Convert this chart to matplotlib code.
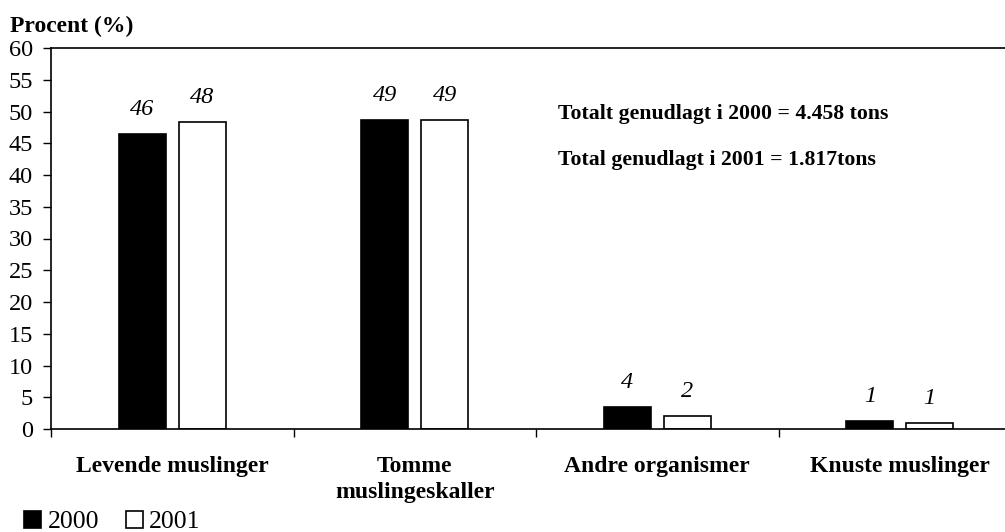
import numpy as np
import matplotlib
matplotlib.use("Agg")
import matplotlib.pyplot as plt

plt.rcParams['font.family'] = ['Liberation Serif', 'DejaVu Serif']

# data
categories = ['Levende muslinger', 'Tomme\nmuslingeskaller', 'Andre organismer', 'Knuste muslinger']
years = ['2000', '2001']
vals_2000 = [46.5, 48.7, 3.5, 1.2]
vals_2001 = [48.3, 48.6, 2.0, 1.0]
labels_2000 = ['46', '49', '4', '1']
labels_2001 = ['48', '49', '2', '1']
yticks = list(range(0, 65, 5))

fig = plt.figure(figsize=(10.05, 5.32), dpi=100)
ax = fig.add_axes([51 / 1005, 1 - 429 / 532, 970 / 1005, 381 / 532])

x = np.arange(len(categories))
w = 0.194
off = 0.123
b1 = ax.bar(x - off, vals_2000, w, color='black', edgecolor='black', linewidth=1.2, label=years[0])
b2 = ax.bar(x + off, vals_2001, w, color='white', edgecolor='black', linewidth=1.2, label=years[1])

# italic value labels above the bars
for bars, labs in ((b1, labels_2000), (b2, labels_2001)):
    for r, t in zip(bars, labs):
        ax.text(r.get_x() + r.get_width() / 2, r.get_height() + 2.2, t,
                ha='center', va='bottom', fontsize=17.5, style='italic')

ax.set_xlim(-0.5, len(categories) - 0.5)
ax.set_ylim(0, 60)
ax.set_yticks(yticks)
ax.tick_params(axis='y', labelsize=17.5, length=6, width=1, direction='out', pad=7)
ax.set_xticks(np.arange(len(categories) + 1) - 0.5)
ax.set_xticklabels([])
ax.tick_params(axis='x', length=6, width=1, direction='out')
for i, c in enumerate(categories):
    ax.text(i, -4.3, c, ha='center', va='top', fontsize=17, fontweight='bold',
            linespacing=1.28)
for s in ax.spines.values():
    s.set_linewidth(1.2)

ax.text(1.59, 49.6, 'Totalt genudlagt i 2000 = 4.458 tons', fontsize=15.7,
        fontweight='bold', va='center', ha='left')
ax.text(1.59, 42.4, 'Total genudlagt i 2001 = 1.817tons', fontsize=15.7,
        fontweight='bold', va='center', ha='left')

fig.text(10 / 1005, 1 - 26 / 532, 'Procent (%)', fontsize=17, fontweight='bold',
         va='center', ha='left')

fig.legend(handles=[b1, b2], labels=years, loc='center left',
           bbox_to_anchor=(24 / 1005, 1 - 522 / 532), ncol=2, frameon=False,
           fontsize=18.5, handlelength=0.66, handleheight=0.66, handletextpad=0.25,
           columnspacing=1.05, borderaxespad=0, borderpad=0)

fig.savefig('out.png', dpi=100)
